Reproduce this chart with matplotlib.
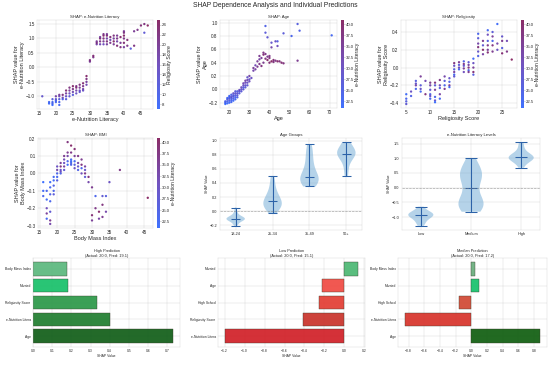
import matplotlib
matplotlib.use("Agg")
import matplotlib.pyplot as plt
import seaborn as sns
from matplotlib.colors import LinearSegmentedColormap
from matplotlib.ticker import MultipleLocator

sns.set_style("whitegrid")
plt.rcParams['font.family'] = ['Liberation Sans', 'DejaVu Sans']

# --- dependence data (x level -> shap values / colour feature per point) ---
lit_levels = [16, 18, 19, 20, 21, 22, 23, 24, 25, 26, 27, 28, 29, 30, 31, 32, 33, 34,
              35, 36, 37, 38, 39, 40, 41, 42, 43, 44, 45, 46, 47]
lit_shap = [[-1.0], [-1.2, -1.25], [-1.1, -1.2, -1.3, -1.25], [-1.0, -1.1, -1.15, -1.2],
            [-0.95, -1.0, -1.1, -1.2, -1.3], [-0.95, -1.05, -1.1], [-0.8, -0.9, -1.0, -1.1],
            [-0.7, -0.8, -0.9, -1.0], [-0.65, -0.75, -0.85, -0.95], [-0.65, -0.7, -0.8, -0.9],
            [-0.6, -0.7, -0.8, -0.85], [-0.55, -0.65, -0.75, -0.8], [-0.3, -0.4, -0.5, -0.6],
            [0.2, 0.25], [0.35, 0.4], [0.8, 0.85, 0.9], [0.8, 0.9, 1.0, 1.05],
            [0.8, 0.9, 1.0, 1.1, 1.15], [0.8, 0.9, 1.0, 1.1, 1.15], [0.85, 0.95, 1.05],
            [0.8, 0.9, 1.0, 1.1], [0.75, 0.9, 1.0, 1.1], [0.7, 0.85, 1.05],
            [0.7, 0.85, 1.0, 1.1, 1.2, 1.25], [0.75, 0.95], [0.65], [0.75, 1.25], [1.3],
            [1.45], [1.2, 1.5], [1.45]]
lit_relig = [[14], [9, 8], [12, 9, 7, 10], [18, 14, 10, 9], [20, 16, 12, 10, 9], [22, 17, 11],
             [23, 19, 15, 12], [22, 20, 16, 13], [24, 21, 17, 12], [21, 23, 18, 15],
             [22, 20, 16, 14], [23, 21, 18, 15], [24, 22, 19, 17], [20, 22], [21, 23],
             [18, 22, 20], [17, 21, 23, 19], [16, 20, 22, 24, 21], [19, 22, 18, 23, 20],
             [21, 17, 23], [20, 24, 19, 22], [23, 18, 21, 20], [22, 20, 24],
             [19, 23, 21, 24, 22, 20], [21, 23], [12], [22, 20], [21], [23], [13, 22], [25]]

age_levels = [18, 19, 20, 21, 22, 23, 24, 25, 26, 27, 28, 29, 30, 31, 32, 33, 34, 35, 36,
              37, 38, 39, 40, 41, 42, 43, 44, 45, 46, 47, 51, 54, 55, 71]
age_shap = [[-0.22, -0.2, -0.18], [-0.21, -0.18, -0.15, -0.13], [-0.2, -0.17, -0.14, -0.12, -0.1],
            [-0.19, -0.16, -0.13, -0.11, -0.08], [-0.17, -0.14, -0.11, -0.09, -0.06],
            [-0.15, -0.12, -0.09, -0.06, -0.03], [-0.12, -0.09, -0.06, -0.03],
            [-0.06, -0.03, -0.01], [-0.03, 0.0, 0.03], [0.0, 0.03, 0.06, 0.09],
            [0.03, 0.06, 0.1, 0.13], [0.06, 0.1, 0.14, 0.18], [0.12, 0.15, 0.2], [0.17],
            [0.28, 0.32], [0.3, 0.36], [0.34, 0.42], [0.38, 0.45, 0.5], [0.35, 0.47],
            [0.4, 0.52, 0.55], [0.46, 0.53, 0.85, 0.95], [0.44, 0.49, 0.78], [0.4, 0.5, 0.47],
            [0.42, 0.7, 0.63], [0.44, 0.41], [0.43, 0.72], [0.42, 0.65, 0.72], [0.42], [0.4],
            [0.39, 0.84], [0.8], [0.98, 0.43], [0.88], [0.81]]
age_lit = [[21, 23, 25], [22, 24, 26, 23], [22, 25, 27, 24, 23], [23, 24, 26, 28, 25],
           [22, 25, 27, 26, 29], [24, 23, 26, 28, 27], [25, 27, 29, 26], [26, 28, 30],
           [27, 29, 31], [28, 26, 30, 32], [27, 29, 31, 33], [28, 30, 32, 29], [31, 29, 33],
           [30], [33, 35], [34, 32], [36, 35], [37, 34, 36], [38, 35], [36, 39, 37],
           [38, 37, 27, 25], [40, 36, 28], [39, 37, 38], [41, 29, 33], [39, 38], [37, 30],
           [40, 31, 26], [38], [39], [38, 27], [24], [26, 36], [25], [23]]

rel_levels = [5, 6, 7, 8, 9, 10, 11, 12, 13, 14, 15, 16, 17, 18, 19, 20, 21, 22, 23, 24, 25, 26, 27]
rel_shap = [[-0.3, -0.35, -0.38, -0.41], [-0.27, -0.32], [-0.15, -0.18, -0.2, -0.24],
            [-0.1, -0.2, -0.24, -0.27], [-0.15, -0.3], [-0.17, -0.2, -0.25, -0.3, -0.32, -0.35],
            [-0.17, -0.2, -0.25, -0.33, -0.37, -0.39], [-0.14, -0.2, -0.23, -0.3, -0.35],
            [-0.1, -0.15, -0.2, -0.24], [-0.12, -0.16, -0.2, -0.22],
            [0.05, 0.02, -0.02, -0.05, -0.08, -0.1], [0.06, 0.03, 0.0, -0.02],
            [0.07, 0.04, 0.02, -0.01, -0.05], [0.06, 0.03, 0.0, -0.03, -0.05],
            [0.1, 0.05, 0.0, -0.05, -0.08], [0.38, 0.33, 0.27, 0.23, 0.18, 0.13],
            [0.3, 0.25, 0.2, 0.15], [0.42, 0.37, 0.3, 0.25, 0.2, 0.17],
            [0.4, 0.35, 0.3, 0.25, 0.18], [0.49, 0.27, 0.2], [0.35, 0.3, 0.22, 0.16],
            [0.3, 0.18], [0.09]]
rel_lit = [[22, 24, 26, 28], [30, 25], [26, 29, 33, 24], [35, 27, 30, 23], [32, 38],
           [36, 33, 28, 25, 30, 23], [38, 27, 35, 24, 29, 21], [37, 31, 26, 34, 23],
           [33, 27, 24, 36], [29, 25, 35, 23], [38, 30, 26, 34, 23, 28], [36, 27, 32, 24],
           [25, 37, 29, 35, 31], [28, 34, 38, 24, 36], [22, 30, 35, 39, 26],
           [24, 27, 33, 38, 29, 25], [36, 28, 40, 34], [23, 31, 26, 37, 35, 39],
           [27, 35, 24, 38, 36], [22, 33, 30], [29, 36, 26, 39], [32, 37], [41]]

bmi_levels = [16, 17, 18, 19, 20, 21, 22, 23, 24, 25, 26, 27, 28, 29, 30, 31, 32, 33, 34, 35, 38, 46]
bmi_shap = [[-0.05, -0.1, -0.13], [-0.1, -0.15, -0.2, -0.23, -0.26],
            [-0.05, -0.08, -0.12, -0.16, -0.22, -0.27, -0.29], [-0.02, -0.04, -0.07, -0.1, -0.12],
            [0.04, 0.02, 0.0, -0.02, -0.04], [0.06, 0.04, 0.02, 0.01, 0.0],
            [0.1, 0.08, 0.06, 0.04, 0.02], [0.18, 0.12, 0.1, 0.07, 0.05],
            [0.16, 0.12, 0.08, 0.07, 0.06, 0.05], [0.14, 0.1, 0.07, 0.05, 0.03],
            [0.1, 0.06, 0.04, 0.02], [0.08, 0.05, 0.03, 0.0], [0.04, 0.02, 0.0, -0.02],
            [-0.02, -0.05], [-0.08, -0.24, -0.27], [-0.13, -0.2], [-0.22, -0.26],
            [-0.13, -0.18, -0.25], [-0.13, -0.22], [-0.05], [0.02], [-0.14]]
bmi_lit = [[21, 22, 24], [24, 22, 31, 35, 23], [22, 23, 25, 24, 28, 36, 33], [23, 22, 25, 24, 27],
           [30, 33, 24, 23, 26], [35, 38, 29, 31, 25], [36, 32, 30, 34, 28], [38, 36, 33, 24, 22],
           [40, 37, 23, 22, 24, 25], [39, 35, 23, 26, 30], [37, 33, 29, 25], [36, 38, 24, 31],
           [34, 29, 37, 27], [38, 33], [36, 39, 35], [24, 37], [40, 34], [28, 38, 36], [26, 33],
           [30], [37], [41]]

# --- violin data ---
age_groups = ['18-24', '25-34', '35-49', '50+']
age_group_shap = [
    [-0.21, -0.19, -0.17, -0.15, -0.14, -0.13, -0.13, -0.12, -0.12, -0.12, -0.11, -0.11,
     -0.11, -0.10, -0.10, -0.10, -0.09, -0.09, -0.08, -0.07, -0.05, -0.03, 0.0, 0.05],
    [-0.03, 0.0, 0.03, 0.05, 0.06, 0.07, 0.08, 0.09, 0.10, 0.12, 0.14, 0.15, 0.16, 0.18,
     0.20, 0.22, 0.25, 0.28, 0.32, 0.38, 0.44, 0.50],
    [0.35, 0.38, 0.40, 0.41, 0.42, 0.43, 0.44, 0.45, 0.46, 0.47, 0.48, 0.50, 0.56, 0.58,
     0.60, 0.65, 0.70, 0.75, 0.80, 0.85, 0.90, 0.95],
    [0.50, 0.62, 0.72, 0.78, 0.80, 0.81, 0.82, 0.84, 0.86, 0.88, 0.95, 0.98],
]
lit_groups = ['Low', 'Medium', 'High']
lit_group_shap = [
    [-1.30, -1.22, -1.15, -1.08, -1.03, -1.0, -0.97, -0.95, -0.93, -0.91, -0.89, -0.87,
     -0.85, -0.82, -0.75, -0.65],
    [-0.82, -0.75, -0.68, -0.62, -0.58, -0.56, -0.54, -0.52, -0.5, -0.47, -0.42, -0.1,
     0.1, 0.2, 0.3, 0.35, 0.4, 0.45, 0.5, 0.55, 0.62, 0.7, 0.85, 1.0],
    [0.68, 0.82, 0.9, 0.95, 0.98, 1.0, 1.02, 1.03, 1.05, 1.07, 1.1, 1.15, 1.25, 1.4, 1.55],
]

# --- individual predictions (bottom to top) ---
high_feat = ['Age', 'e-Nutrition Litera', 'Religiosity Score', 'Married', 'Body Mass Index']
high_vals = [0.73, 0.40, 0.335, 0.18, 0.175]
high_cols = ['#0b5a12', '#1a7a2a', '#279644', '#12bf66', '#58b67a']
low_feat = ['e-Nutrition Litera', 'Religiosity Score', 'High School', 'Age', 'Married']
low_vals = [-1.2, -0.41, -0.25, -0.22, 0.14]
low_cols = ['#d01a22', '#c82e26', '#e2382e', '#f0463e', '#48b670']
med_feat = ['Age', 'e-Nutrition Litera', 'High School', 'Married', 'Body Mass Index']
med_vals = [0.88, -0.85, -0.16, 0.10, 0.05]
med_cols = ['#0a5a0a', '#d62e26', '#d0442e', '#10c068', '#66ac7a']

W, H = 550, 365
fig = plt.figure(figsize=(18, 18 * H / W), dpi=W / 18)


def rect(l, t, r, b):
    return [l / W, 1 - b / H, (r - l) / W, (b - t) / H]


cmap = LinearSegmentedColormap.from_list('bp', ['#2a62ff', '#6440b8', '#7e1656'])


def flat(levels, nested):
    xs, ys = [], []
    for lv, vals in zip(levels, nested):
        for v in vals:
            xs.append(lv)
            ys.append(v)
    return xs, ys


def dep(pos, cpos, levels, shap, col, title, xlabel, ylabel, clabel):
    ax = fig.add_axes(rect(*pos))
    x, y = flat(levels, shap)
    _, c = flat(levels, col)
    sc = ax.scatter(x, y, c=c, cmap=cmap, s=30, alpha=0.9, linewidths=0)
    ax.set_title(title, fontsize=10, pad=4)
    ax.set_xlabel(xlabel, fontsize=13, labelpad=2)
    ax.set_ylabel(ylabel, fontsize=13, labelpad=2)
    ax.tick_params(labelsize=11, pad=2)
    cax = fig.add_axes(rect(*cpos))
    cb = fig.colorbar(sc, cax=cax)
    cb.outline.set_visible(False)
    cb.ax.tick_params(labelsize=10, pad=2, length=2)
    cb.set_label(clabel, fontsize=12, labelpad=2)
    return ax


dep((37, 20, 153, 109), (157, 20, 160, 109), lit_levels, lit_shap, lit_relig,
    'SHAP: e-Nutrition Literacy', 'e-Nutrition Literacy',
    'SHAP value for\ne-Nutrition Literacy', 'Religiosity Score')
dep((220, 20, 337, 108), (341, 20, 344, 108), age_levels, age_shap, age_lit,
    'SHAP: Age', 'Age', 'SHAP value for\nAge', 'e-Nutrition Literacy')
dep((401, 20, 517, 108), (521, 20, 524, 108), rel_levels, rel_shap, rel_lit,
    'SHAP: Religiosity', 'Religiosity Score', 'SHAP value for\nReligiosity Score',
    'e-Nutrition Literacy')
dep((38, 138, 153, 228), (157, 138, 160, 228), bmi_levels, bmi_shap, bmi_lit,
    'SHAP: BMI', 'Body Mass Index', 'SHAP value for\nBody Mass Index',
    'e-Nutrition Literacy')


def violin(pos, groups, data, title):
    ax = fig.add_axes(rect(*pos))
    parts = ax.violinplot(data, showmedians=True)
    for b in parts['bodies']:
        b.set_facecolor('#5b9fd0')
        b.set_alpha(0.45)
        b.set_edgecolor('none')
    for k in ['cbars', 'cmins', 'cmaxes', 'cmedians']:
        parts[k].set_color('#2c62a8')
        parts[k].set_linewidth(2.5)
    ax.axhline(0, color='gray', linestyle='--', linewidth=1.5, alpha=0.7)
    ax.set_xticks(range(1, len(groups) + 1))
    ax.set_xticklabels(groups)
    ax.set_title(title, fontsize=10, pad=4)
    ax.set_ylabel('SHAP Value', fontsize=8, labelpad=3)
    ax.tick_params(labelsize=9, pad=2)
    return ax


violin((220, 138, 362, 230), age_groups, age_group_shap, 'Age Groups')
violin((402, 138, 540, 230), lit_groups, lit_group_shap, 'e-Nutrition Literacy Levels')


def bars(pos, feats, vals, cols, title, step):
    ax = fig.add_axes(rect(*pos))
    ax.barh(range(len(feats)), vals, color=cols, height=0.8, edgecolor='#3a3a2a',
            linewidth=1.0, alpha=0.9)
    ax.set_yticks(range(len(feats)))
    ax.set_yticklabels(feats)
    ax.xaxis.set_major_locator(MultipleLocator(step))
    ax.set_title(title, fontsize=9, pad=3)
    ax.set_xlabel('SHAP Value', fontsize=8, labelpad=2)
    ax.tick_params(labelsize=8, pad=2)
    ax.set_axisbelow(True)
    return ax


bars((33, 258, 180, 347), high_feat, high_vals, high_cols,
     'High Prediction\n(Actual: 20.0, Pred: 19.1)', 0.1)
bars((218, 258, 365, 347), low_feat, low_vals, low_cols,
     'Low Prediction\n(Actual: 20.0, Pred: 15.1)', 0.2)
bars((398, 258, 547, 347), med_feat, med_vals, med_cols,
     'Median Prediction\n(Actual: 20.0, Pred: 17.2)', 0.2)

fig.suptitle('SHAP Dependence Analysis and Individual Predictions', fontsize=16,
             y=1 - 2 / H, va='top')

fig.savefig('out.png', dpi=W / 18)
